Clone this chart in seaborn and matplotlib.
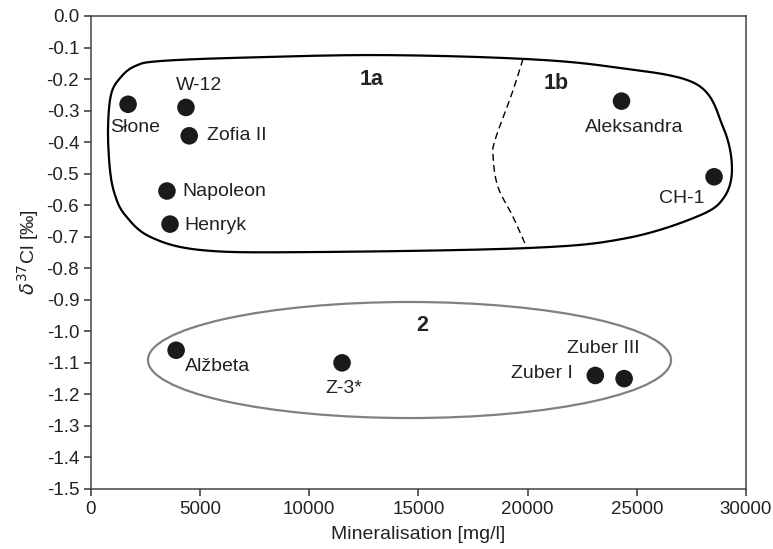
import numpy as np
import pandas as pd
import matplotlib
matplotlib.use('Agg')
import matplotlib.pyplot as plt
import seaborn as sns
from matplotlib.patches import Ellipse

# Sample sites: mineralisation [mg/l] and delta37Cl [permil]
sites = ['Słone', 'W-12', 'Zofia II', 'Napoleon', 'Henryk', 'Aleksandra', 'CH-1',
         'Alžbeta', 'Z-3*', 'Zuber I', 'Zuber III']
mineralisation = [1700, 4350, 4500, 3480, 3620, 24300, 28540, 3900, 11500, 23100, 24420]
delta37cl = [-0.28, -0.29, -0.38, -0.555, -0.66, -0.27, -0.51, -1.06, -1.10, -1.14, -1.15]

# label anchors (x, y, ha)
label_pos = {
    'Słone': (2000, -0.355, 'center'),
    'W-12': (4950, -0.222, 'center'),
    'Zofia II': (5300, -0.38, 'left'),
    'Napoleon': (4200, -0.558, 'left'),
    'Henryk': (4300, -0.666, 'left'),
    'Aleksandra': (24870, -0.355, 'center'),
    'CH-1': (27070, -0.58, 'center'),
    'Alžbeta': (4300, -1.11, 'left'),
    'Z-3*': (11590, -1.18, 'center'),
    'Zuber I': (22080, -1.135, 'right'),
    'Zuber III': (23450, -1.056, 'center'),
}

# outline of group 1 (closed curve through these points)
env1_x = [780, 916, 1330, 2015, 3160, 7000, 13240, 19790, 23900, 27700, 28950, 29360,
          29000, 27800, 24500, 19970, 9570, 5000, 2700, 1560, 1100, 870]
env1_y = [-0.36, -0.25, -0.197, -0.159, -0.143, -0.132, -0.124, -0.136, -0.162, -0.215, -0.352, -0.480,
          -0.575, -0.635, -0.705, -0.736, -0.749, -0.742, -0.70, -0.631, -0.568, -0.488]
# dashed divider 1a / 1b
div_x = [19790, 19290, 18510, 18420, 18640, 19330, 19970]
div_y = [-0.136, -0.244, -0.393, -0.447, -0.542, -0.637, -0.736]

df = pd.DataFrame({'site': sites, 'mineralisation': mineralisation, 'd37Cl': delta37cl})

sns.set_style('ticks')
plt.rcParams['font.family'] = ['Liberation Sans', 'DejaVu Sans']
plt.rcParams['axes.unicode_minus'] = False


def catmull(p0, p1, p2, p3, n):
    out = []
    for t in np.linspace(0, 1, n, endpoint=False):
        t2, t3 = t * t, t * t * t
        out.append(0.5 * ((2 * p1) + (-p0 + p2) * t + (2 * p0 - 5 * p1 + 4 * p2 - p3) * t2
                          + (-p0 + 3 * p1 - 3 * p2 + p3) * t3))
    return out


def smooth_closed(xs, ys, n=20):
    # smooth the hand-drawn outline; scale x so both axes count alike
    pts = np.column_stack([np.array(xs) / 20000.0, ys])
    m = len(pts)
    out = []
    for i in range(m):
        out += catmull(pts[i - 1], pts[i], pts[(i + 1) % m], pts[(i + 2) % m], n)
    out.append(out[0])
    out = np.array(out)
    out[:, 0] *= 20000.0
    return out


def smooth_open(xs, ys, n=20):
    pts = np.column_stack([np.array(xs) / 20000.0, ys])
    pts = np.vstack([pts[0], pts, pts[-1]])
    out = []
    for i in range(1, len(pts) - 2):
        out += catmull(pts[i - 1], pts[i], pts[i + 1], pts[i + 2], n)
    out.append(pts[-2])
    out = np.array(out)
    out[:, 0] *= 20000.0
    return out


fig = plt.figure(figsize=(7.73, 5.49), dpi=100)
ax = fig.add_axes([0.1177, 0.1093, 0.8473, 0.8616])

# envelopes
pts = smooth_closed(env1_x, env1_y)
ax.plot(pts[:, 0], pts[:, 1], color='black', lw=1.6, zorder=2)
dv = smooth_open(div_x, div_y)
ax.plot(dv[:, 0], dv[:, 1], color='black', lw=1.0, ls=(0, (5, 3)), zorder=2)
ax.add_patch(Ellipse((14590, -1.091), 23960, 0.368, fill=False, edgecolor='#808080', lw=1.6, zorder=2))

sns.scatterplot(data=df, x='mineralisation', y='d37Cl', ax=ax, s=160, color='#1a1a1a',
                edgecolor='none', zorder=3, legend=False)

for s in sites:
    x, y, ha = label_pos[s]
    ax.text(x, y, s, ha=ha, va='center', fontsize=14, color='#222222')

ax.text(12870, -0.203, '1a', ha='center', va='center', fontsize=15.5, fontweight='bold', color='#222222')
ax.text(21300, -0.213, '1b', ha='center', va='center', fontsize=15.5, fontweight='bold', color='#222222')
ax.text(15160, -0.983, '2', ha='center', va='center', fontsize=15.5, fontweight='bold', color='#222222')

yt = np.round(np.arange(-1.5, 0.01, 0.1), 1)
ax.set_xlim(0, 30000)
ax.set_ylim(-1.5, 0.0)
ax.set_xticks(np.arange(0, 30001, 5000))
ax.set_yticks(yt)
ax.set_yticklabels([f'{v:.1f}' for v in yt])
ax.tick_params(axis='both', labelsize=13.5, length=5, width=1.1, colors='#333333', labelcolor='#222222')
for side in ['left', 'bottom', 'top', 'right']:
    ax.spines[side].set_visible(True)
    ax.spines[side].set_color('#444444')
    ax.spines[side].set_linewidth(1.1)

ax.set_xlabel('Mineralisation [mg/l]', fontsize=14, color='#222222', labelpad=6)
ax.set_ylabel(r'$\delta^{37}$Cl [‰]', fontsize=14, color='#222222', labelpad=4)

fig.savefig('out.png', dpi=100)
